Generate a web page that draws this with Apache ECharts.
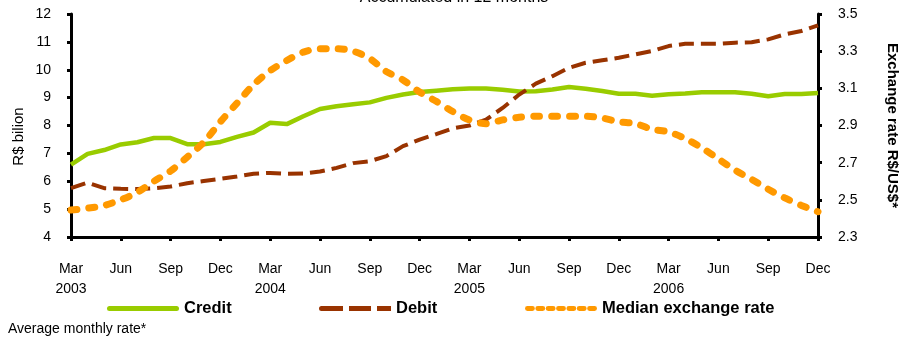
<!DOCTYPE html>
<html>
<head>
<meta charset="utf-8">
<script src="https://cdn.jsdelivr.net/npm/echarts@6/dist/echarts.min.js"></script>
<style>
  html, body { margin: 0; padding: 0; background: #fff; }
  #chart { width: 908px; height: 340px; }
</style>
</head>
<body>
<div id="chart"></div>
<script>
// Monthly series, Mar 2003 – Dec 2006 (accumulated in 12 months)
const monthNames = ['Jan','Feb','Mar','Apr','May','Jun','Jul','Aug','Sep','Oct','Nov','Dec'];
const startYear = 2003, startMonth = 2, monthCount = 46;

// R$ billion
const credit = [6.6, 6.98, 7.12, 7.32, 7.4, 7.55, 7.55, 7.33, 7.33, 7.41, 7.59, 7.75,
  8.1, 8.05, 8.33, 8.59, 8.69, 8.76, 8.83, 8.99, 9.11, 9.2, 9.25, 9.3,
  9.33, 9.33, 9.28, 9.22, 9.23, 9.29, 9.38, 9.32, 9.24, 9.14, 9.14, 9.07,
  9.12, 9.15, 9.19, 9.19, 9.19, 9.14, 9.05, 9.13, 9.13, 9.17];

const debit = [5.75, 5.95, 5.75, 5.73, 5.72, 5.75, 5.81, 5.93, 6.01, 6.09, 6.17, 6.27,
  6.3, 6.27, 6.28, 6.35, 6.48, 6.65, 6.72, 6.9, 7.26, 7.49, 7.69, 7.9,
  8.0, 8.21, 8.63, 9.11, 9.5, 9.77, 10.07, 10.25, 10.34, 10.43, 10.55, 10.67,
  10.85, 10.93, 10.93, 10.93, 10.97, 10.99, 11.09, 11.27, 11.39, 11.59];

// R$/US$, average monthly rate
const exchangeRate = [2.445, 2.455, 2.47, 2.5, 2.54, 2.6, 2.655, 2.73, 2.81, 2.92, 3.02, 3.12,
  3.195, 3.25, 3.295, 3.313, 3.313, 3.3, 3.26, 3.19, 3.145, 3.08, 3.03, 2.975,
  2.93, 2.91, 2.93, 2.944, 2.95, 2.95, 2.95, 2.95, 2.94, 2.92, 2.91, 2.88,
  2.865, 2.83, 2.78, 2.72, 2.66, 2.61, 2.557, 2.51, 2.47, 2.436];

const categories = [];
for (let k = 0; k < monthCount; k++) {
  const m = (startMonth + k) % 12;
  const y = startYear + Math.floor((startMonth + k) / 12);
  categories.push(monthNames[m] + ' ' + y);
}

const FONT = '"Liberation Sans", Arial, sans-serif';
const GREEN = '#99CC00', BROWN = '#993300', ORANGE = '#FF9900';

// Legend swatches: solid bar, three dashes, row of short dots
const ICON_CREDIT = 'path://M2.5,0H69.5A2.5,2.5,0,0,1,69.5,5H2.5A2.5,2.5,0,0,1,2.5,0Z';
const ICON_DEBIT = 'path://M2.5,0H24V5H2.5A2.5,2.5,0,0,1,2.5,0Z M30,0H52V5H30Z M58,0H72V5H58Z';
let dots = '';
for (let k = 0; k < 7; k++) {
  const x0 = k * 10.5;
  dots += 'M' + (x0 + 2) + ',0H' + (x0 + 7) + 'A2.5,2.5,0,0,1,' + (x0 + 7) + ',5H' + (x0 + 2) +
          'A2.5,2.5,0,0,1,' + (x0 + 2) + ',0Z ';
}
const ICON_RATE = 'path://' + dots.trim();

const chart = echarts.init(document.getElementById('chart'), null, { renderer: 'canvas' });

const legendText = { fontFamily: FONT, fontSize: 16.5, fontWeight: 'bold', color: '#000' };
const legendBase = { top: 295, itemWidth: 72, itemHeight: 5, itemGap: 0, textStyle: legendText, selectedMode: false };

chart.setOption({
  animation: false,
  backgroundColor: '#fff',
  title: {
    text: 'Accumulated in 12 months',
    left: 'center',
    top: -15,
    textStyle: { fontFamily: FONT, fontSize: 16, fontWeight: 'normal', color: '#000' }
  },
  grid: { left: 71, right: 90, top: 14, bottom: 103, outerBoundsMode: 'none' },
  legend: [
    Object.assign({ data: [{ name: 'Credit', icon: ICON_CREDIT }], left: 102 }, legendBase),
    Object.assign({ data: [{ name: 'Debit', icon: ICON_DEBIT }], left: 314 }, legendBase),
    Object.assign({ data: [{ name: 'Median exchange rate', icon: ICON_RATE }], left: 520 }, legendBase)
  ],
  graphic: [
    {
      type: 'text',
      left: 8,
      top: 322,
      style: { text: 'Average monthly rate*', fontFamily: FONT, fontSize: 14, fill: '#000' }
    },
    {
      type: 'text',
      x: 19,
      y: 136.5,
      rotation: Math.PI / 2,
      style: {
        text: 'R$ bilion', fontFamily: FONT, fontSize: 15, fill: '#000',
        align: 'center', verticalAlign: 'middle'
      }
    }
  ],
  xAxis: {
    type: 'category',
    data: categories,
    boundaryGap: false,
    axisLine: { lineStyle: { color: '#000', width: 3 } },
    axisTick: { interval: 2, length: 4, lineStyle: { color: '#000', width: 3 } },
    axisLabel: {
      interval: 2,
      margin: 22,
      fontFamily: FONT, fontSize: 14, color: '#000', lineHeight: 20,
      formatter: function (v) {
        const parts = v.split(' ');
        return parts[0] === 'Mar' ? parts[0] + '\n' + parts[1] : parts[0];
      }
    },
    splitLine: { show: false }
  },
  yAxis: [
    {
      type: 'value',
      min: 4, max: 12, interval: 1,
      axisLine: { show: true, lineStyle: { color: '#000', width: 3 } },
      axisTick: { show: true, length: 4, lineStyle: { color: '#000', width: 3 } },
      axisLabel: { margin: 20, fontFamily: FONT, fontSize: 14, color: '#000' },
      splitLine: { show: false }
    },
    {
      type: 'value',
      position: 'right',
      min: 2.3, max: 3.5, interval: 0.2,
      name: 'Exchange rate R$/US$*',
      nameLocation: 'middle',
      nameRotate: -90,
      nameGap: 67,
      nameTextStyle: { fontFamily: FONT, fontSize: 15, fontWeight: 'bold', color: '#000' },
      axisLine: { show: true, lineStyle: { color: '#000', width: 3 } },
      axisTick: { show: true, length: 4, lineStyle: { color: '#000', width: 3 } },
      axisLabel: {
        margin: 20, fontFamily: FONT, fontSize: 14, color: '#000',
        formatter: function (v) { return v.toFixed(1); }
      },
      splitLine: { show: false }
    }
  ],
  series: [
    {
      name: 'Credit', type: 'line', yAxisIndex: 0, data: credit,
      symbol: 'none', color: GREEN,
      lineStyle: { color: GREEN, width: 4.5 }
    },
    {
      name: 'Debit', type: 'line', yAxisIndex: 0, data: debit,
      symbol: 'none', color: BROWN,
      lineStyle: { color: BROWN, width: 4, type: [15, 7] }
    },
    {
      name: 'Median exchange rate', type: 'line', yAxisIndex: 1, data: exchangeRate,
      symbol: 'none', color: ORANGE, smooth: 0.3,
      lineStyle: { color: ORANGE, width: 7, type: [6, 12], cap: 'round' }
    }
  ]
});
</script>
</body>
</html>
